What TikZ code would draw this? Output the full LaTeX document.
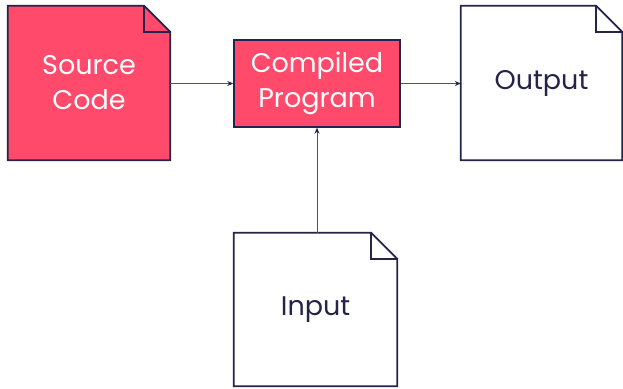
\documentclass[tikz,border=0pt]{standalone}
\usepackage{fontspec}
\setmainfont{Poppins}
\usetikzlibrary{backgrounds,calc,arrows.meta}
\definecolor{rose}{HTML}{FF4A6B}
\definecolor{ink}{HTML}{24244A}
\definecolor{wire}{HTML}{50506E}
\tikzset{
  x=1pt, y=-1pt,
  label text/.style={font=\fontsize{27}{35}\selectfont, align=center, inner sep=0pt},
  docnode/.style={label text, draw=none},
  boxnode/.style={label text, draw=ink, line width=1.4pt, fill=rose, text=white},
  docshape/.style={draw=ink, line width=1.8pt, line join=miter},
  flow/.style={draw=wire, line width=0.9pt, -{Stealth[length=6pt,width=5pt,color=ink]}}
}
\begin{document}
\begin{tikzpicture}
\useasboundingbox (0,0) rectangle (623,388);
% documents and the compiled program
\node[docnode, text=white, minimum width=162pt, minimum height=154pt] (src) at (89,83) {Source\\Code};
\node[boxnode, minimum width=166pt, minimum height=87pt] (prog) at (317,83.5) {Compiled\\Program};
\node[docnode, text=ink, minimum width=161pt, minimum height=154pt] (out) at (541.5,83) {Output};
\node[docnode, text=ink, minimum width=163pt, minimum height=153pt] (in) at (315.5,309.5) {Input};
% dog-eared page outlines behind the labels
\begin{scope}[on background layer]
  \foreach \d/\col in {src/rose, out/white, in/white} {
    \draw[docshape, fill=\col]
      (\d.north west) -- ($(\d.north east)+(-26,0)$) -- ($(\d.north east)+(0,26)$)
      -- (\d.south east) -- (\d.south west) -- cycle;
    \draw[docshape]
      ($(\d.north east)+(-26,0)$) -- ($(\d.north east)+(-26,26)$) -- ($(\d.north east)+(0,26)$);
  }
\end{scope}
% data flow
\draw[flow] (src.east |- prog) -- (prog.west);
\draw[flow] (prog.east) -- (out.west |- prog);
\draw[flow] (in.north -| prog) -- (prog.south);
\end{tikzpicture}
\end{document}
